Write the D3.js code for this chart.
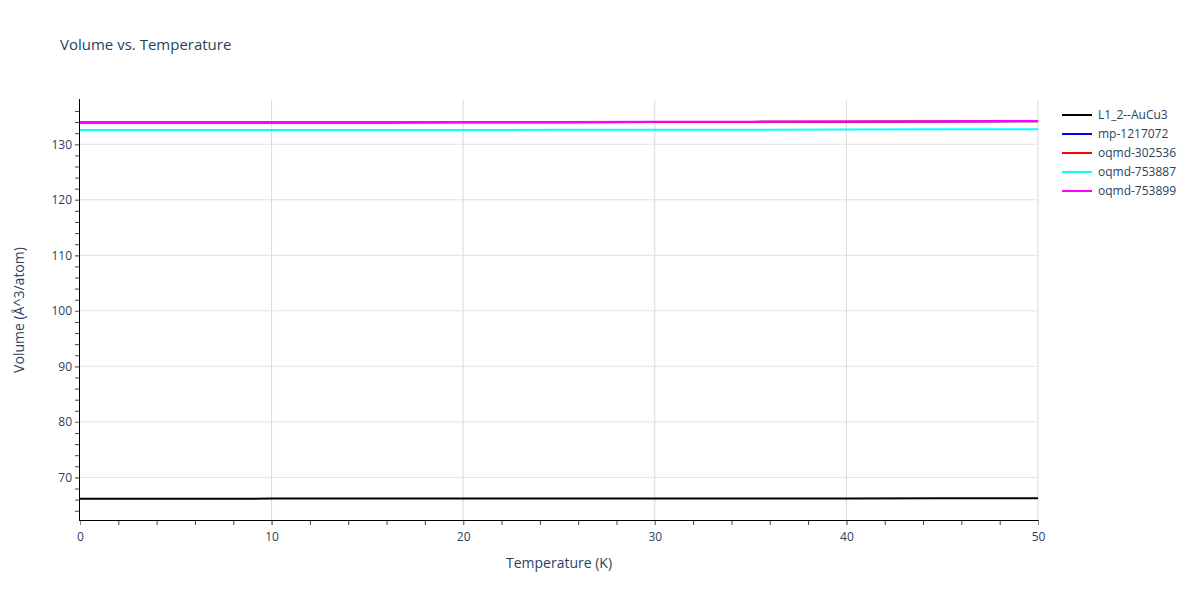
<!DOCTYPE html>
<html><head><meta charset="utf-8">
<script src="https://cdn.jsdelivr.net/npm/d3@7"></script>
<style>body{margin:0;background:#fff;} text{font-family:"Open Sans",sans-serif;}</style>
</head><body><div id="chart"></div>
<script>
const temps = [0, 5, 10, 15, 20, 25, 30, 35, 40, 45, 50];
const seriesNames = ["L1_2--AuCu3", "mp-1217072", "oqmd-302536", "oqmd-753887", "oqmd-753899"];
const seriesColors = ["#000000", "#0000ff", "#ff0000", "#00ffff", "#ff00ff"];
const vL12 = [66.17, 66.17, 66.18, 66.18, 66.19, 66.19, 66.20, 66.21, 66.22, 66.23, 66.25];
const vMp = [133.90, 133.91, 133.92, 133.93, 133.95, 133.97, 134.00, 134.03, 134.07, 134.11, 134.15];
const vOq302536 = [133.90, 133.91, 133.92, 133.93, 133.95, 133.97, 134.00, 134.03, 134.07, 134.11, 134.15];
const vOq753887 = [132.55, 132.55, 132.56, 132.57, 132.58, 132.59, 132.61, 132.63, 132.65, 132.68, 132.71];
const vOq753899 = [133.96, 133.96, 133.97, 133.98, 134.00, 134.02, 134.04, 134.07, 134.10, 134.14, 134.18];
const seriesValues = [vL12, vMp, vOq302536, vOq753887, vOq753899];
const xTicks = [0, 10, 20, 30, 40, 50];
const yTicks = [70, 80, 90, 100, 110, 120, 130];

const W = 1200, H = 600;
const m = {l: 80, r: 162, t: 100, b: 80};
const svg = d3.select("#chart").append("svg").attr("width", W).attr("height", H);
const x = d3.scaleLinear().domain([0, 50]).range([m.l, W - m.r]);
const y = d3.scaleLinear().domain([62.33, 137.97]).range([H - m.b, m.t]);
const txt = "#2a3f5f";

// gridlines
svg.append("g").selectAll("line").data(xTicks.slice(1)).join("line")
  .attr("x1", d => x(d)).attr("x2", d => x(d)).attr("y1", m.t).attr("y2", H - m.b)
  .attr("stroke", "#d9d9d9").attr("stroke-width", 1);
svg.append("g").selectAll("line").data(yTicks).join("line")
  .attr("x1", m.l).attr("x2", W - m.r).attr("y1", d => y(d)).attr("y2", d => y(d))
  .attr("stroke", "#e2e2e2").attr("stroke-width", 1);

// lines
const line = d3.line().x((d, i) => x(temps[i])).y(d => y(d));
seriesValues.forEach((vals, k) => {
  svg.append("path").datum(vals).attr("d", line).attr("fill", "none")
    .attr("stroke", seriesColors[k]).attr("stroke-width", 2);
});

// axes
const xAxis = svg.append("g").attr("transform", `translate(0,${H - m.b})`);
xAxis.call(d3.axisBottom(x).tickValues(d3.range(0, 51, 2)).tickSize(5).tickFormat(""))
  .call(g => g.select(".domain").remove())
  .call(g => g.selectAll("line").attr("stroke", "#444"));
xAxis.append("g").call(d3.axisBottom(x).tickValues(xTicks).tickSize(5).tickPadding(7))
  .call(g => g.select(".domain").remove())
  .call(g => g.selectAll("line").attr("stroke", "#888"))
  .call(g => g.selectAll("text").attr("fill", txt).attr("font-size", 12).attr("font-family", "Open Sans"));
xAxis.append("line").attr("x1", m.l - 0.5).attr("x2", W - m.r + 0.5).attr("y1", 0.5).attr("y2", 0.5).attr("stroke", "#000").attr("stroke-width", 1);

const yAxis = svg.append("g").attr("transform", `translate(${m.l},0)`);
yAxis.call(d3.axisLeft(y).tickValues(d3.range(64, 138, 2)).tickSize(5).tickFormat(""))
  .call(g => g.select(".domain").remove())
  .call(g => g.selectAll("line").attr("stroke", "#444"));
yAxis.append("g").call(d3.axisLeft(y).tickValues(yTicks).tickSize(5).tickPadding(3))
  .call(g => g.select(".domain").remove())
  .call(g => g.selectAll("line").attr("stroke", "#888"))
  .call(g => g.selectAll("text").attr("fill", txt).attr("font-size", 12).attr("font-family", "Open Sans"));
yAxis.append("line").attr("x1", -0.5).attr("x2", -0.5).attr("y1", m.t - 1).attr("y2", H - m.b + 1).attr("stroke", "#000").attr("stroke-width", 1);

// titles
svg.append("text").attr("x", 60).attr("y", 50).attr("fill", txt).attr("font-size", 15).text("Volume vs. Temperature");
svg.append("text").attr("x", (m.l + W - m.r) / 2).attr("y", 568).attr("text-anchor", "middle")
  .attr("fill", txt).attr("font-size", 14).text("Temperature (K)");
svg.append("text").attr("transform", `translate(24,${(m.t + H - m.b) / 2}) rotate(-90)`).attr("text-anchor", "middle")
  .attr("fill", txt).attr("font-size", 14).text("Volume (Å^3/atom)");

// legend
const leg = svg.append("g").attr("transform", "translate(1062,115)");
seriesNames.forEach((n, i) => {
  const g = leg.append("g").attr("transform", `translate(0,${i * 19})`);
  g.append("line").attr("x1", 0).attr("x2", 30).attr("stroke", seriesColors[i]).attr("stroke-width", 2);
  g.append("text").attr("x", 36).attr("y", 4).attr("fill", txt).attr("font-size", 12).text(n);
});
</script></body></html>
